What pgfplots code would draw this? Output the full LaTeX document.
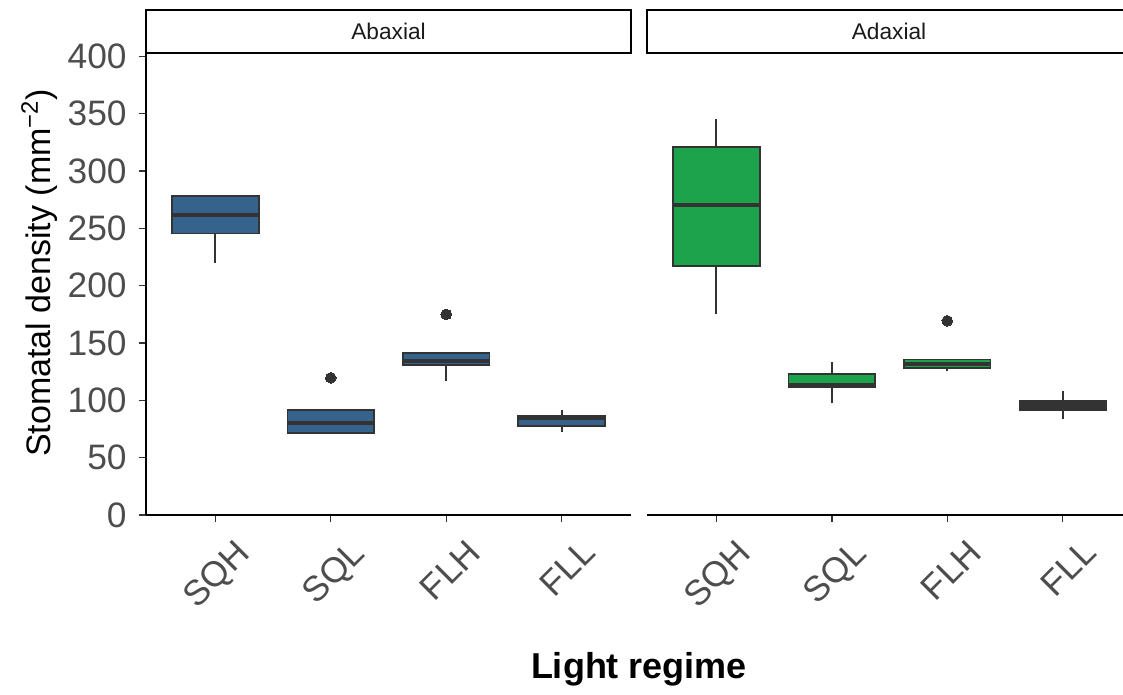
\documentclass[border=0pt]{standalone}
\usepackage{fontspec}
\setmainfont{Liberation Sans}
\usepackage{pgfplots}
\pgfplotsset{compat=1.18}

\definecolor{c33}{HTML}{333333}
\definecolor{c4d}{HTML}{4D4D4D}
\definecolor{c1a}{HTML}{1A1A1A}
\definecolor{abblue}{HTML}{35638C}
\definecolor{adgreen}{HTML}{1DA34B}

\pgfplotsset{
  facet/.style={
    scale only axis,
    height=346.5pt,
    ymin=0, ymax=403,
    xtick={1,2,3,4},
    xticklabels={SQH,SQL,FLH,FLL},
    xticklabel style={font=\fontsize{26.5}{31}\selectfont, text=c4d,
      xshift=14pt, yshift=-8.5pt,
      rotate=45, anchor=north east, inner sep=2pt},
    yticklabel style={font=\fontsize{26.5}{31}\selectfont, text=c4d,
      xshift=-5.5pt},
    /pgf/number format/assume math mode=true,
    clip=false,
  },
  axstyle/.style={
    axis line style={-, line width=1.3pt, black},
    tick style={line width=1.1pt, color=c33},
    major tick length=5.5pt,
    xtick align=outside, ytick align=outside,
    xtick pos=left, ytick pos=left,
  },
  whisk/.style={draw=c33, line width=1.4pt, line cap=butt, no markers},
  boxs/.style={draw=c33, line width=1.4pt, line join=miter, no markers, fill=#1},
  med/.style={draw=c33, line width=3pt, line cap=butt, no markers},
  outl/.style={only marks, mark=*, mark size=4pt,
    mark options={fill=c33, draw=c33, line width=0pt}},
}

\begin{document}
\begin{tikzpicture}
\useasboundingbox (0,0) rectangle (842.25pt,-521.25pt);

% Abaxial panel
\begin{axis}[facet,
  at={(109.5pt,-39.75pt)}, anchor=north west,
  width=363.75pt,
  xmin=0.4, xmax=4.6,
  axis x line=bottom,
  axis y line=left,
  axstyle,
  ytick={0,50,...,400},
]
% whiskers
\addplot[whisk] coordinates {(1,220) (1,245.6)};
\addplot[whisk] coordinates {(3,117) (3,130.5)};
\addplot[whisk] coordinates {(4,72.1) (4,77.9)};
\addplot[whisk] coordinates {(4,86.6) (4,91.5)};
% boxes (lower to upper quartile)
\addplot[boxs=abblue] coordinates {(0.625,245.6) (1.375,245.6) (1.375,278.4) (0.625,278.4)} -- cycle;
\addplot[boxs=abblue] coordinates {(1.625,71.8) (2.375,71.8) (2.375,91.5) (1.625,91.5)} -- cycle;
\addplot[boxs=abblue] coordinates {(2.625,130.5) (3.375,130.5) (3.375,141) (2.625,141)} -- cycle;
\addplot[boxs=abblue] coordinates {(3.625,77.9) (4.375,77.9) (4.375,86.6) (3.625,86.6)} -- cycle;
% medians
\addplot[med] coordinates {(0.625,262) (1.375,262)};
\addplot[med] coordinates {(1.625,80.5) (2.375,80.5)};
\addplot[med] coordinates {(2.625,134.6) (3.375,134.6)};
\addplot[med] coordinates {(3.625,84.5) (4.375,84.5)};
% outliers
\addplot[outl] coordinates {(2,119.7) (3,175)};
\end{axis}

% Adaxial panel
\begin{axis}[facet,
  at={(485.25pt,-39.75pt)}, anchor=north west,
  width=357pt,
  xmin=0.4, xmax=4.522,
  axis x line=bottom,
  axis y line=none,
  axstyle,
  ytick=\empty,
]
% whiskers
\addplot[whisk] coordinates {(1,175) (1,217)};
\addplot[whisk] coordinates {(1,321) (1,345)};
\addplot[whisk] coordinates {(2,97.4) (2,111.3)};
\addplot[whisk] coordinates {(2,123) (2,133.4)};
\addplot[whisk] coordinates {(3,125.8) (3,128.2)};
\addplot[whisk] coordinates {(3,135.7) (3,136.3)};
\addplot[whisk] coordinates {(4,83.4) (4,91.5)};
\addplot[whisk] coordinates {(4,99.7) (4,108.4)};
% boxes
\addplot[boxs=adgreen] coordinates {(0.625,217) (1.375,217) (1.375,321) (0.625,321)} -- cycle;
\addplot[boxs=adgreen] coordinates {(1.625,111.3) (2.375,111.3) (2.375,123) (1.625,123)} -- cycle;
\addplot[boxs=adgreen] coordinates {(2.625,128.2) (3.375,128.2) (3.375,135.7) (2.625,135.7)} -- cycle;
\addplot[boxs=c33] coordinates {(3.625,91.5) (4.375,91.5) (4.375,99.7) (3.625,99.7)} -- cycle;
% medians
\addplot[med] coordinates {(0.625,270) (1.375,270)};
\addplot[med] coordinates {(1.625,113.5) (2.375,113.5)};
\addplot[med] coordinates {(2.625,131.4) (3.375,131.4)};
\addplot[med] coordinates {(3.625,95.6) (4.375,95.6)};
% outliers
\addplot[outl] coordinates {(3,169.4)};
\end{axis}

% facet strips
\draw[line width=1.5pt, black] (109.5pt,-7.5pt) rectangle (473.25pt,-39.75pt);
\draw[line width=1.5pt, black] (485.25pt,-7.5pt) rectangle (849pt,-39.75pt);
\node[font=\fontsize{17}{20}\selectfont, text=c1a] at (291.4pt,-23.6pt) {Abaxial};
\node[font=\fontsize{17}{20}\selectfont, text=c1a] at (666.75pt,-23.6pt) {Adaxial};

% axis titles
\node[rotate=90, anchor=base, font=\fontsize{25.5}{30}\selectfont]
  at (37.5pt,-204.75pt) {Stomatal density (mm\textsuperscript{−2})};
\node[anchor=base, font=\fontsize{27}{32}\selectfont\bfseries]
  at (479.25pt,-508.5pt) {Light regime};
\end{tikzpicture}
\end{document}
